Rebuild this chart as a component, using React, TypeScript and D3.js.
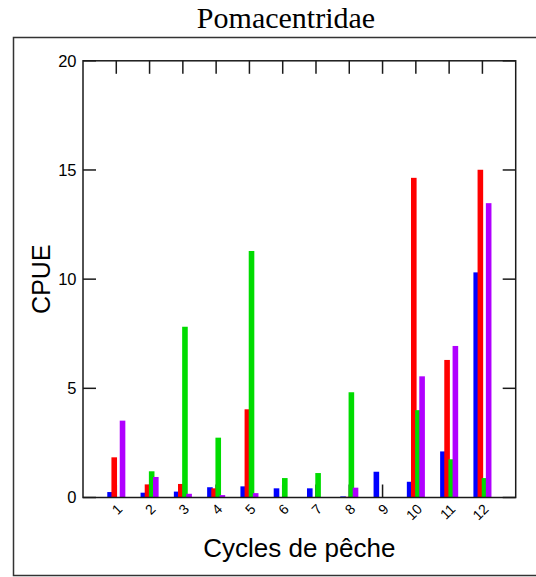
import React, { useEffect, useRef } from 'react';
import * as d3 from 'd3';

// Cycles de pêche 1..12
const cycles = [1, 2, 3, 4, 5, 6, 7, 8, 9, 10, 11, 12];
const yTicks = [0, 5, 10, 15, 20];

// CPUE per series
const blueValues = [0.25, 0.22, 0.27, 0.47, 0.51, 0.42, 0.42, 0.05, 1.18, 0.72, 2.11, 10.31];
const redValues = [1.84, 0.6, 0.62, 0.42, 4.04, 0.02, 0.02, 0.03, 0.02, 14.64, 6.3, 15.01];
const greenValues = [0.02, 1.2, 7.82, 2.74, 11.29, 0.89, 1.12, 4.82, 0.02, 4.0, 1.75, 0.89];
const purpleValues = [3.52, 0.94, 0.17, 0.11, 0.2, 0.01, 0.01, 0.45, 0.02, 5.55, 6.94, 13.48];

const seriesColors = ['#0000ff', '#ff0000', '#00dc00', '#b000ff'];

const App: React.FC = () => {
  const svgRef = useRef<SVGSVGElement>(null);

  useEffect(() => {
    if (!svgRef.current) return;
    const svg = d3.select(svgRef.current);
    svg.selectAll('*').remove();

    const width = 536;
    const height = 577;
    const plot = { left: 83, right: 515.7, top: 60.8, bottom: 497.5 };
    const axisColor = '#1a1a1a';
    const tickLen = 13;
    const sans = "'Liberation Sans', Arial, sans-serif";

    svg.append('rect').attr('width', width).attr('height', height).attr('fill', '#fff');

    // Outer frame
    svg.append('rect')
      .attr('x', 13.5).attr('y', 37.5)
      .attr('width', 600).attr('height', 538)
      .attr('fill', 'none').attr('stroke', '#333').attr('stroke-width', 1.5);

    // Title
    svg.append('text')
      .attr('x', 286).attr('y', 28)
      .attr('text-anchor', 'middle')
      .attr('font-family', "'Liberation Serif', 'Times New Roman', serif")
      .attr('font-size', 30)
      .attr('fill', '#000')
      .text('Pomacentridae');

    const x = d3.scaleLinear().domain([0, 13]).range([plot.left, plot.right]);
    const y = d3.scaleLinear().domain([0, 20]).range([plot.bottom, plot.top]);
    const offset = d3.scaleLinear().domain([0, 3]).range([-9, 3.45]);
    const barWidth = 5.6;

    const g = svg.append('g');

    // Bottom ticks (behind bars)
    cycles.forEach(c => {
      g.append('line')
        .attr('x1', x(c)).attr('x2', x(c))
        .attr('y1', plot.bottom).attr('y2', plot.bottom - tickLen)
        .attr('stroke', axisColor).attr('stroke-width', 1.5);
    });

    // Bars
    const series = [blueValues, redValues, greenValues, purpleValues];
    series.forEach((values, si) => {
      g.selectAll(`rect.s${si}`)
        .data(values)
        .enter().append('rect')
        .attr('class', `s${si}`)
        .attr('x', (d, i) => x(cycles[i]) + offset(si))
        .attr('y', d => y(d))
        .attr('width', barWidth)
        .attr('height', d => y(0) - y(d))
        .attr('fill', seriesColors[si]);
    });

    // Axis box
    g.append('rect')
      .attr('x', plot.left).attr('y', plot.top)
      .attr('width', plot.right - plot.left).attr('height', plot.bottom - plot.top)
      .attr('fill', 'none').attr('stroke', axisColor).attr('stroke-width', 1.5);

    // Top ticks
    cycles.forEach(c => {
      g.append('line')
        .attr('x1', x(c)).attr('x2', x(c))
        .attr('y1', plot.top).attr('y2', plot.top + tickLen)
        .attr('stroke', axisColor).attr('stroke-width', 1.5);
    });

    // Left / right ticks and labels
    yTicks.forEach(t => {
      g.append('line')
        .attr('x1', plot.left).attr('x2', plot.left + tickLen)
        .attr('y1', y(t)).attr('y2', y(t))
        .attr('stroke', axisColor).attr('stroke-width', 1.5);
      g.append('line')
        .attr('x1', plot.right).attr('x2', plot.right - tickLen)
        .attr('y1', y(t)).attr('y2', y(t))
        .attr('stroke', axisColor).attr('stroke-width', 1.5);
      g.append('text')
        .attr('x', plot.left - 6.5).attr('y', y(t))
        .attr('dy', '0.36em')
        .attr('text-anchor', 'end')
        .attr('font-family', sans).attr('font-size', 16.5)
        .attr('fill', '#000')
        .text(String(t));
    });

    // X tick labels (rotated, end-anchored)
    cycles.forEach(c => {
      g.append('text')
        .attr('transform', `translate(${x(c) + 3.5},${plot.bottom + 9}) rotate(-45)`)
        .attr('text-anchor', 'end')
        .attr('dy', '0.36em')
        .attr('font-family', sans).attr('font-size', 14)
        .attr('fill', '#000')
        .text(String(c));
    });

    // Axis titles
    svg.append('text')
      .attr('x', (plot.left + plot.right) / 2).attr('y', 557)
      .attr('text-anchor', 'middle')
      .attr('font-family', sans).attr('font-size', 26)
      .attr('fill', '#000')
      .text('Cycles de pêche');

    svg.append('text')
      .attr('transform', `translate(50,${(plot.top + plot.bottom) / 2}) rotate(-90)`)
      .attr('text-anchor', 'middle')
      .attr('font-family', sans).attr('font-size', 25)
      .attr('fill', '#000')
      .text('CPUE');
  }, []);

  return (
    <svg
      ref={svgRef}
      width={536}
      height={577}
      style={{ position: 'absolute', left: 0, top: 0, display: 'block' }}
    />
  );
};

export default App;
